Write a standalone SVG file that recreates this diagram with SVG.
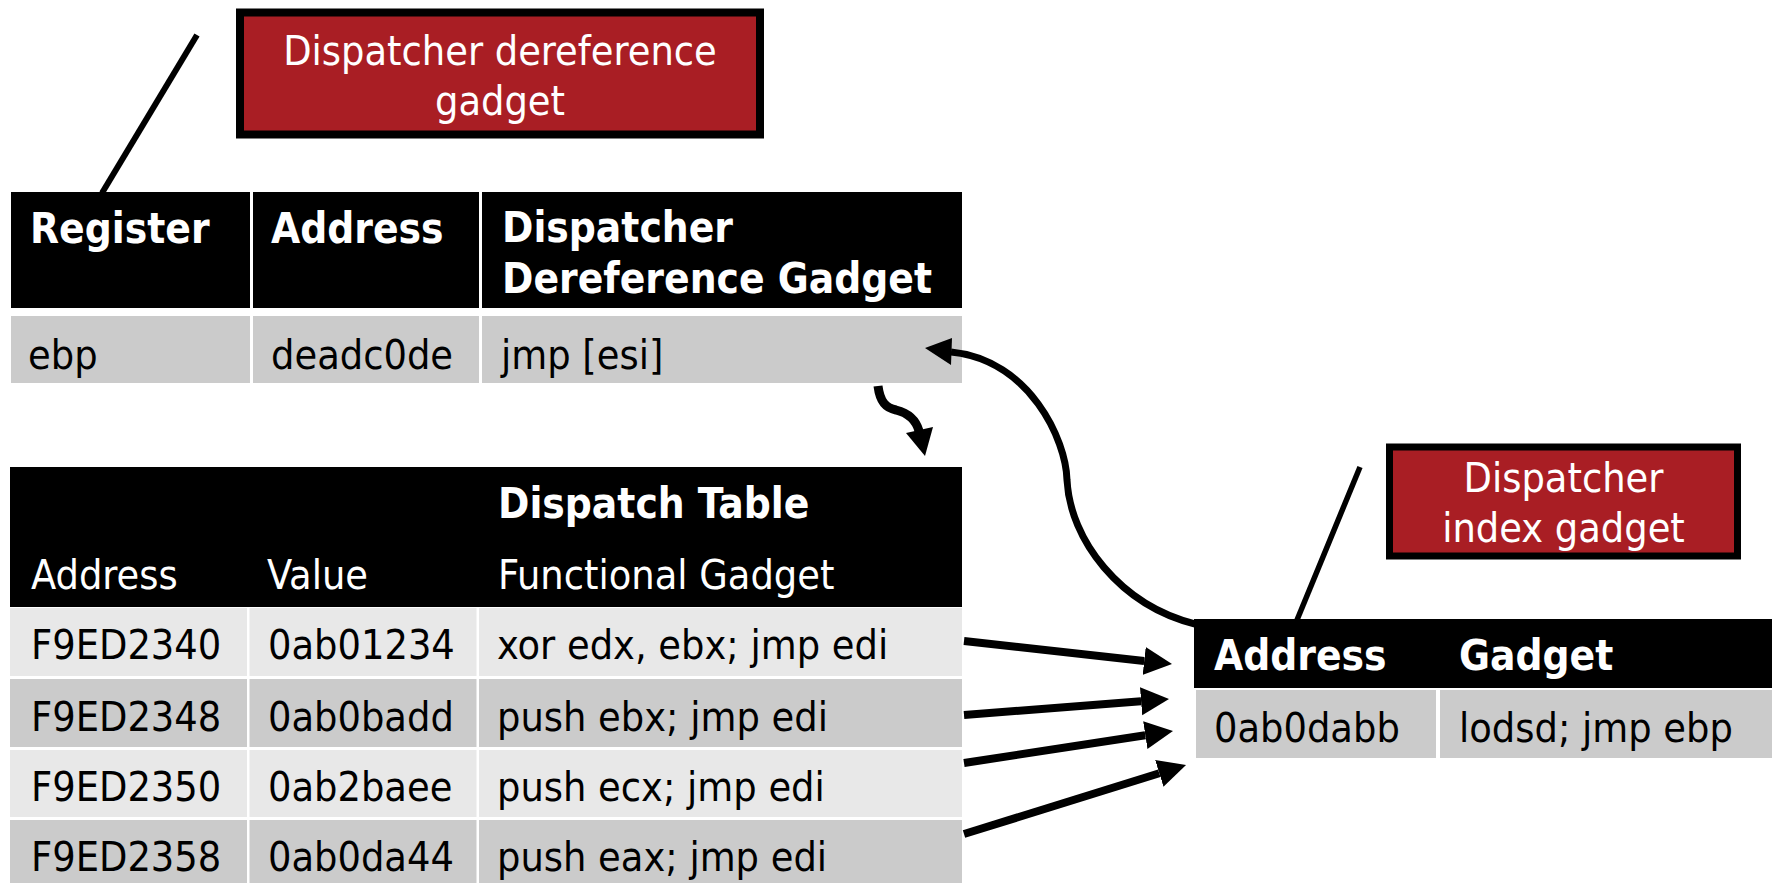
<svg xmlns="http://www.w3.org/2000/svg" width="1772" height="883" viewBox="0 0 1772 883">
<style>
.t{font-family:"DejaVu Sans Condensed","DejaVu Sans",sans-serif;font-size:41px;fill:#000}
.w{fill:#fff}
.b{font-weight:bold;font-size:42px}
.c{text-anchor:middle}
.hd{fill:#000}
.g1{fill:#cbcbcb}
.g2{fill:#e8e8e8}
.red{fill:#a91e24;stroke:#000;stroke-width:8}
.ln{stroke:#000;fill:none}
</style>
<defs>
<marker id="ah" markerUnits="userSpaceOnUse" markerWidth="30" markerHeight="30" viewBox="0 -15 30 30" refX="0" refY="0" orient="auto">
<path d="M0,-14 L28,0 L0,14 z" fill="#000"/>
</marker>
</defs>
<rect width="1772" height="883" fill="#fff"/>

<g id="callout-dereference">
<rect class="red" x="240" y="12.5" width="520" height="122"/>
<text class="t w c" x="500" y="65">Dispatcher dereference</text>
<text class="t w c" x="500" y="115">gadget</text>
</g>

<g id="callout-index">
<rect class="red" x="1389.5" y="447" width="348" height="109" style="stroke-width:7"/>
<text class="t w c" x="1563.5" y="492">Dispatcher</text>
<text class="t w c" x="1563.5" y="542">index gadget</text>
</g>

<g id="register-table">
<rect class="hd" x="11" y="192" width="239" height="116"/>
<rect class="hd" x="253" y="192" width="226" height="116"/>
<rect class="hd" x="482" y="192" width="480" height="116"/>
<rect class="g1" x="11" y="316" width="239" height="67"/>
<rect class="g1" x="253" y="316" width="226" height="67"/>
<rect class="g1" x="482" y="316" width="480" height="67"/>
<text class="t w b" x="30" y="243">Register</text>
<text class="t w b" x="271" y="243">Address</text>
<text class="t w b" x="502" y="242">Dispatcher</text>
<text class="t w b" x="502" y="293">Dereference Gadget</text>
<text class="t" x="28" y="369">ebp</text>
<text class="t" x="271" y="369">deadc0de</text>
<text class="t" x="501" y="369">jmp [esi]</text>
</g>

<g id="dispatch-table">
<rect class="hd" x="10" y="467" width="952" height="140"/>
<text class="t w b" x="498" y="518">Dispatch Table</text>
<text class="t w" x="31" y="589">Address</text>
<text class="t w" x="267" y="589">Value</text>
<text class="t w" x="498" y="589">Functional Gadget</text>
<rect class="g2" x="10" y="608" width="237" height="68"/>
<rect class="g2" x="249.5" y="608" width="227" height="68"/>
<rect class="g2" x="479" y="608" width="483" height="68"/>
<rect class="g1" x="10" y="679" width="237" height="68"/>
<rect class="g1" x="249.5" y="679" width="227" height="68"/>
<rect class="g1" x="479" y="679" width="483" height="68"/>
<rect class="g2" x="10" y="750" width="237" height="67"/>
<rect class="g2" x="249.5" y="750" width="227" height="67"/>
<rect class="g2" x="479" y="750" width="483" height="67"/>
<rect class="g1" x="10" y="820" width="237" height="63"/>
<rect class="g1" x="249.5" y="820" width="227" height="63"/>
<rect class="g1" x="479" y="820" width="483" height="63"/>
<text class="t" x="31" y="659">F9ED2340</text>
<text class="t" x="268" y="659">0ab01234</text>
<text class="t" x="497" y="659">xor edx, ebx; jmp edi</text>
<text class="t" x="31" y="731">F9ED2348</text>
<text class="t" x="268" y="731">0ab0badd</text>
<text class="t" x="497" y="731">push ebx; jmp edi</text>
<text class="t" x="31" y="801">F9ED2350</text>
<text class="t" x="268" y="801">0ab2baee</text>
<text class="t" x="497" y="801">push ecx; jmp edi</text>
<text class="t" x="31" y="871">F9ED2358</text>
<text class="t" x="268" y="871">0ab0da44</text>
<text class="t" x="497" y="871">push eax; jmp edi</text>
</g>

<g id="index-table">
<rect class="hd" x="1194" y="619" width="578" height="69"/>
<rect class="g1" x="1196" y="690" width="240" height="68"/>
<rect class="g1" x="1440" y="690" width="332" height="68"/>
<text class="t w b" x="1214" y="670">Address</text>
<text class="t w b" x="1459" y="670">Gadget</text>
<text class="t" x="1214" y="742">0ab0dabb</text>
<text class="t" x="1459" y="742">lodsd; jmp ebp</text>
</g>

<g id="connectors">
<line class="ln" x1="197" y1="35" x2="102" y2="193" stroke-width="6"/>
<line class="ln" x1="1360" y1="467" x2="1297" y2="620" stroke-width="5.5"/>
<path class="ln" d="M878 386 C880 402 886 408 896 410 C908 413 916 420 919 431" stroke-width="9"/>
<polygon points="906,433 933,427 925,456" fill="#000"/>
<path class="ln" d="M1195 624 C1120 605 1070 540 1067 480 C1066 440 1030 360 951 352" stroke-width="7"/>
<polygon points="952,338 951,365 925,348" fill="#000"/>
<line class="ln" x1="964" y1="641" x2="1144.2" y2="660.9" stroke-width="8" marker-end="url(#ah)"/>
<line class="ln" x1="964" y1="715" x2="1141.1" y2="701.2" stroke-width="8" marker-end="url(#ah)"/>
<line class="ln" x1="964" y1="763" x2="1145.3" y2="735.2" stroke-width="8" marker-end="url(#ah)"/>
<line class="ln" x1="964" y1="834" x2="1159.3" y2="773.3" stroke-width="8" marker-end="url(#ah)"/>
</g>
</svg>
